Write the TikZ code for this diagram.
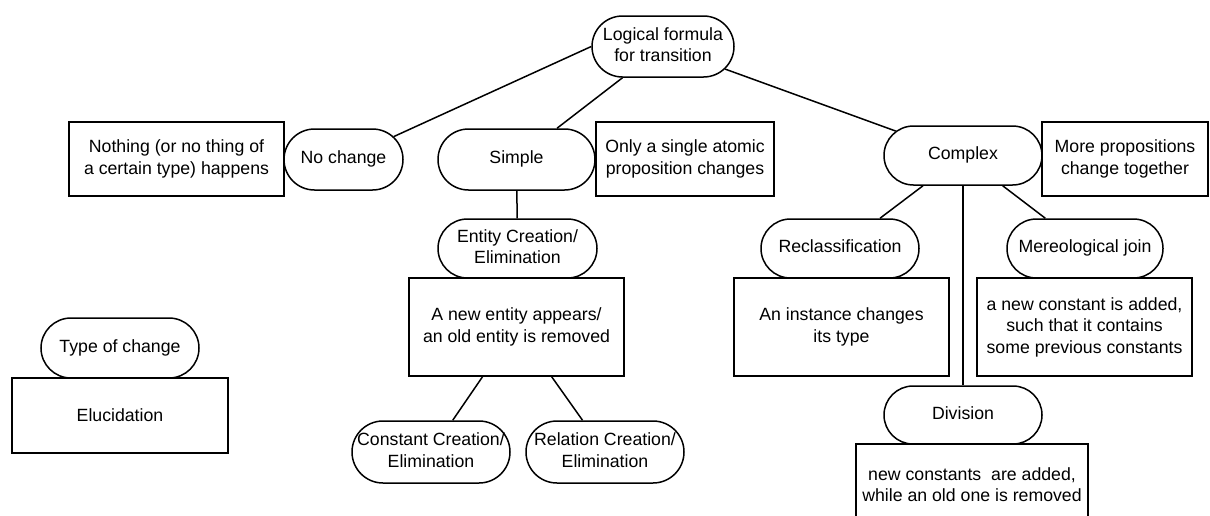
\documentclass[tikz,border=0pt]{standalone}
\usepackage{fontspec}
\setmainfont{Liberation Sans}
\usepackage{tikz}
\usetikzlibrary{shapes.misc}

% text of an oval, allowed to run into its round ends
\newcommand{\ovaltext}[1]{\makebox[0pt]{\begin{tabular}{@{}c@{}}#1\end{tabular}}}

\begin{document}
\begin{tikzpicture}[x=1pt, y=-1pt,
    every node/.style={font=\fontsize{17.7}{21.5}\selectfont, align=center, inner sep=0pt},
    kind/.style={draw, rounded rectangle, line width=1.5pt},
    note/.style={draw, rectangle, line width=1.5pt},
    link/.style={line width=1.5pt}]

\clip (0,0) rectangle (1210,515);

% ROOT

\node[kind, minimum width=142pt, minimum height=61pt] (logic) at (663, 46.5) {\ovaltext{Logical formula\\for transition}};

% FIRST LEVEL

\node[kind, minimum width=119pt, minimum height=61pt] (nochange) at (343.5, 159.5) {\ovaltext{No change}};
\node[note, minimum width=215pt, minimum height=74pt] (nothing) at (176.5, 159) {Nothing (or no thing of\\a certain type) happens};

\node[kind, minimum width=157pt, minimum height=61pt] (simple) at (516.5, 159.5) {\ovaltext{Simple}};
\node[note, minimum width=178pt, minimum height=74pt] (single) at (685, 159) {Only a single atomic\\proposition changes};

\node[kind, minimum width=158pt, minimum height=59pt] (complex) at (963, 155.5) {\ovaltext{Complex}};
\node[note, minimum width=166pt, minimum height=74pt] (together) at (1125, 159) {More propositions\\change together};

% under simple

\node[kind, minimum width=159pt, minimum height=59pt] (entity) at (517.5, 248.5) {\ovaltext{Entity Creation/\\Elimination}};
\node[note, minimum width=215pt, minimum height=98pt] (entitynote) at (516.5, 327) {A new entity appears/\\an old entity is removed};

\node[kind, minimum width=158pt, minimum height=62pt] (constant) at (431, 452) {\ovaltext{Constant Creation/\\Elimination}};
\node[kind, minimum width=158pt, minimum height=62pt] (relation) at (605, 452) {\ovaltext{Relation Creation/\\Elimination}};

% under complex

\node[kind, minimum width=158pt, minimum height=59pt] (reclass) at (840, 248.5) {\ovaltext{Reclassification}};
\node[note, minimum width=215pt, minimum height=98pt] (reclassnote) at (841.5, 327) {An instance changes\\its type};

\node[kind, minimum width=156pt, minimum height=59pt] (mereo) at (1085, 248.5) {\ovaltext{Mereological join}};
\node[note, minimum width=215pt, minimum height=98pt] (mereonote) at (1084.5, 327) {a new constant is added,\\such that it contains\\some previous constants};

\node[kind, minimum width=158pt, minimum height=58pt] (division) at (963, 415) {\ovaltext{Division}};
\node[note, minimum width=232pt, minimum height=81pt] (divisionnote) at (972, 484.5) {new constants\ \ are added,\\while an old one is removed};

% LEGEND

\node[kind, minimum width=158pt, minimum height=60pt] (legendkind) at (120, 348) {\ovaltext{Type of change}};
\node[note, minimum width=216pt, minimum height=75pt] (legendnote) at (120, 415.5) {Elucidation};

% root -> first level
\draw [link] (logic.west) edge (nochange) (logic) edge (simple) (logic) edge (complex);

% simple -> entity -> constant, relation
\draw [link] (simple) edge (entity);
\draw [link] (entitynote) edge (constant) (entitynote) edge (relation);

% complex -> reclassification, division, mereological join
\draw [link] (complex) edge (reclass) (complex) edge (division) (complex) edge (mereo);

\end{tikzpicture}
\end{document}
